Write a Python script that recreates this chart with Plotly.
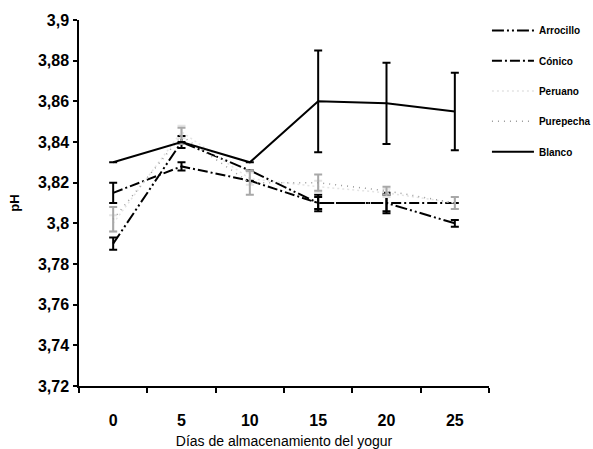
import plotly.graph_objects as go

days = [0, 5, 10, 15, 20, 25]
day_labels = [str(d) for d in days]

arrocillo = [3.790, 3.840, 3.826, 3.810, 3.810, 3.800]
arrocillo_err = [0.003, 0.003, 0.0, 0.004, 0.005, 0.0017]
conico = [3.815, 3.828, 3.821, 3.810, 3.810, 3.810]
conico_err = [0.005, 0.002, 0.0, 0.003, 0.004, 0.0]
peruano = [3.800, 3.845, 3.822, 3.818, 3.815, 3.810]
peruano_err = [0.004, 0.003, 0.003, 0.003, 0.002, 0.003]
purepecha = [3.802, 3.843, 3.820, 3.820, 3.816, 3.810]
purepecha_err = [0.006, 0.004, 0.006, 0.004, 0.002, 0.003]
blanco = [3.830, 3.840, 3.830, 3.860, 3.859, 3.855]
blanco_err = [0.0, 0.0, 0.0, 0.025, 0.020, 0.019]

y_ticks = [3.72, 3.74, 3.76, 3.78, 3.80, 3.82, 3.84, 3.86, 3.88, 3.90]
y_ticktext = ["3,72", "3,74", "3,76", "3,78", "3,8", "3,82", "3,84", "3,86", "3,88", "3,9"]

series = [
    ("Arrocillo", arrocillo, arrocillo_err, "black", "12px,3px,2px,3px,2px,3px", 2, "black"),
    ("Cónico", conico, conico_err, "black", "10px,3px,2px,3px", 2, "black"),
    ("Peruano", peruano, peruano_err, "#e4e4e4", "2px,3px", 1.5, "#e4e4e4"),
    ("Purepecha", purepecha, purepecha_err, "#9a9a9a", "1px,5px", 1.5, "#a8a8a8"),
    ("Blanco", blanco, blanco_err, "black", "solid", 2, "black"),
]

fig = go.Figure()
for i, (name, vals, errs, color, dash, w, ecol) in enumerate(series):
    fig.add_trace(go.Scatter(
        x=day_labels, y=vals, name=name, mode="lines",
        line=dict(color=color, dash=dash, width=w),
        error_y=dict(type="data", array=errs, visible=True, color=ecol,
                     thickness=2, width=4),
        legendgroup=name,
    ))

font_family = "Liberation Sans, Arial, sans-serif"

fig.update_layout(
    width=593, height=449,
    margin=dict(l=79, r=104, t=20, b=63, autoexpand=False),
    paper_bgcolor="white", plot_bgcolor="white",
    showlegend=True,
    legend=dict(
        x=0.995, y=1.011, xanchor="left", yanchor="top",
        font=dict(family=font_family, size=10, color="black", weight="bold"),
        traceorder="grouped", tracegroupgap=11.3, itemwidth=42,
        bgcolor="rgba(0,0,0,0)",
    ),
    xaxis=dict(
        type="category", range=[-0.5, 5.5], automargin=False,
        showline=True, linecolor="black", linewidth=1.5,
        ticks="outside", tickson="boundaries", ticklen=5, tickcolor="black", tickwidth=1.5,
        ticklabelstandoff=19,
        tickfont=dict(family=font_family, size=16, color="black", weight="bold"),
        showgrid=False, zeroline=False,
        title=dict(text="Días de almacenamiento del yogur", standoff=11,
                   font=dict(family=font_family, size=14, color="black")),
    ),
    yaxis=dict(
        range=[3.72, 3.90], automargin=False,
        tickvals=y_ticks, ticktext=y_ticktext,
        showline=True, linecolor="black", linewidth=1.5,
        ticks="outside", ticklen=4, tickcolor="black", tickwidth=1.5,
        ticklabelstandoff=1,
        tickfont=dict(family=font_family, size=16, color="black", weight="bold"),
        showgrid=False, zeroline=False,
        title=dict(text="pH", standoff=15,
                   font=dict(family=font_family, size=13, color="black", weight="bold")),
    ),
)

fig.write_html("out.html", config={"displayModeBar": False},
               post_script="document.body.style.margin='0px';")
